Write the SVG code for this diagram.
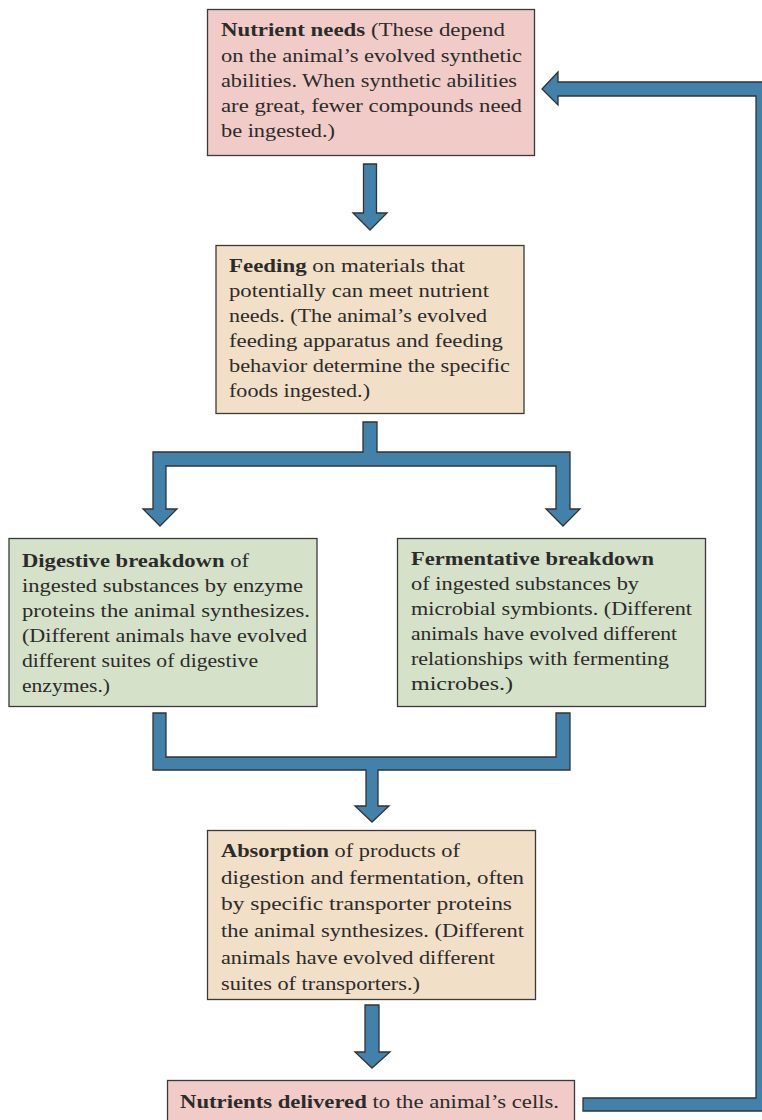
<svg xmlns="http://www.w3.org/2000/svg" width="762" height="1120" viewBox="0 0 762 1120">
  <style>
    .box { stroke: #3a3a3a; stroke-width: 1.3; }
    .pink { fill: #f0cbc7; }
    .tan { fill: #f2dfc7; }
    .green { fill: #d6e1c9; }
    .t { font-family: "Liberation Serif", "Times New Roman", serif; font-size: 19px; fill: #2b2b2b; }
    .b { font-weight: bold; }
    .arrow { fill: #4282aa; stroke: #333333; stroke-width: 1.3; stroke-linejoin: miter; }
  </style>
  <rect width="762" height="1120" fill="#ffffff"/>

  <!-- connectors -->
  <g id="connectors">
    <polygon class="arrow" points="363.5,164 376.5,164 376.5,213 387,213 370,230 353,213 363.5,213"/>
    <polygon class="arrow" points="363,422 377,422 377,452 570,452 570,509 580,509 563,526 546,509 556,509 556,466 166,466 166,509 177,509 160,526 143,509 153,509 153,452 363,452"/>
    <polygon class="arrow" points="153,713 166,713 166,757 556,757 556,713 570,713 570,770 378,770 378,806 389,806 372,822 355,806 366,806 366,770 153,770"/>
    <polygon class="arrow" points="365,1005 379,1005 379,1052 390,1052 372,1068 355,1052 365,1052"/>
    <polygon class="arrow" points="583,1098 756,1098 756,96 558,96 558,105 542,89 558,72 558,82 770,82 770,1111 583,1111"/>
  </g>

  <g id="node-nutrient-needs">
    <rect class="box pink" x="207.5" y="9.5" width="327" height="146"/>
    <text class="t" x="221" y="36" textLength="284" lengthAdjust="spacingAndGlyphs"><tspan class="b">Nutrient needs</tspan> (These depend</text>
    <text class="t" x="221" y="61.5" textLength="301" lengthAdjust="spacingAndGlyphs">on the animal’s evolved synthetic</text>
    <text class="t" x="221" y="87" textLength="296" lengthAdjust="spacingAndGlyphs">abilities. When synthetic abilities</text>
    <text class="t" x="221" y="112" textLength="301" lengthAdjust="spacingAndGlyphs">are great, fewer compounds need</text>
    <text class="t" x="221" y="137" textLength="114" lengthAdjust="spacingAndGlyphs">be ingested.)</text>
  </g>

  <g id="node-feeding">
    <rect class="box tan" x="216" y="245.5" width="308" height="168"/>
    <text class="t" x="229" y="272" textLength="236" lengthAdjust="spacingAndGlyphs"><tspan class="b">Feeding</tspan> on materials that</text>
    <text class="t" x="229" y="297" textLength="260" lengthAdjust="spacingAndGlyphs">potentially can meet nutrient</text>
    <text class="t" x="229" y="322" textLength="258" lengthAdjust="spacingAndGlyphs">needs. (The animal’s evolved</text>
    <text class="t" x="229" y="347" textLength="274" lengthAdjust="spacingAndGlyphs">feeding apparatus and feeding</text>
    <text class="t" x="229" y="372" textLength="281" lengthAdjust="spacingAndGlyphs">behavior determine the specific</text>
    <text class="t" x="229" y="397" textLength="141" lengthAdjust="spacingAndGlyphs">foods ingested.)</text>
  </g>

  <g id="node-digestive">
    <rect class="box green" x="9" y="538.5" width="308" height="168"/>
    <text class="t" x="22" y="567" textLength="227" lengthAdjust="spacingAndGlyphs"><tspan class="b">Digestive breakdown</tspan> of</text>
    <text class="t" x="22" y="592" textLength="281" lengthAdjust="spacingAndGlyphs">ingested substances by enzyme</text>
    <text class="t" x="22" y="617" textLength="288" lengthAdjust="spacingAndGlyphs">proteins the animal synthesizes.</text>
    <text class="t" x="22" y="642" textLength="285" lengthAdjust="spacingAndGlyphs">(Different animals have evolved</text>
    <text class="t" x="22" y="667" textLength="236" lengthAdjust="spacingAndGlyphs">different suites of digestive</text>
    <text class="t" x="22" y="692" textLength="88" lengthAdjust="spacingAndGlyphs">enzymes.)</text>
  </g>

  <g id="node-fermentative">
    <rect class="box green" x="397.5" y="538.5" width="308" height="168"/>
    <text class="t" x="411" y="565" textLength="243" lengthAdjust="spacingAndGlyphs"><tspan class="b">Fermentative breakdown</tspan></text>
    <text class="t" x="411" y="590" textLength="228" lengthAdjust="spacingAndGlyphs">of ingested substances by</text>
    <text class="t" x="411" y="615" textLength="281" lengthAdjust="spacingAndGlyphs">microbial symbionts. (Different</text>
    <text class="t" x="411" y="640" textLength="266" lengthAdjust="spacingAndGlyphs">animals have evolved different</text>
    <text class="t" x="411" y="665" textLength="258" lengthAdjust="spacingAndGlyphs">relationships with fermenting</text>
    <text class="t" x="411" y="690" textLength="102" lengthAdjust="spacingAndGlyphs">microbes.)</text>
  </g>

  <g id="node-absorption">
    <rect class="box tan" x="207.5" y="830.5" width="328" height="169"/>
    <text class="t" x="221" y="857" textLength="239" lengthAdjust="spacingAndGlyphs"><tspan class="b">Absorption</tspan> of products of</text>
    <text class="t" x="221" y="883.5" textLength="303" lengthAdjust="spacingAndGlyphs">digestion and fermentation, often</text>
    <text class="t" x="221" y="910" textLength="291" lengthAdjust="spacingAndGlyphs">by specific transporter proteins</text>
    <text class="t" x="221" y="937" textLength="303" lengthAdjust="spacingAndGlyphs">the animal synthesizes. (Different</text>
    <text class="t" x="221" y="963.5" textLength="274" lengthAdjust="spacingAndGlyphs">animals have evolved different</text>
    <text class="t" x="221" y="990" textLength="199" lengthAdjust="spacingAndGlyphs">suites of transporters.)</text>
  </g>

  <g id="node-delivered">
    <rect class="box pink" x="167.5" y="1080.5" width="407" height="50"/>
    <text class="t" x="180" y="1108" textLength="379" lengthAdjust="spacingAndGlyphs"><tspan class="b">Nutrients delivered</tspan> to the animal’s cells.</text>
  </g>
</svg>
